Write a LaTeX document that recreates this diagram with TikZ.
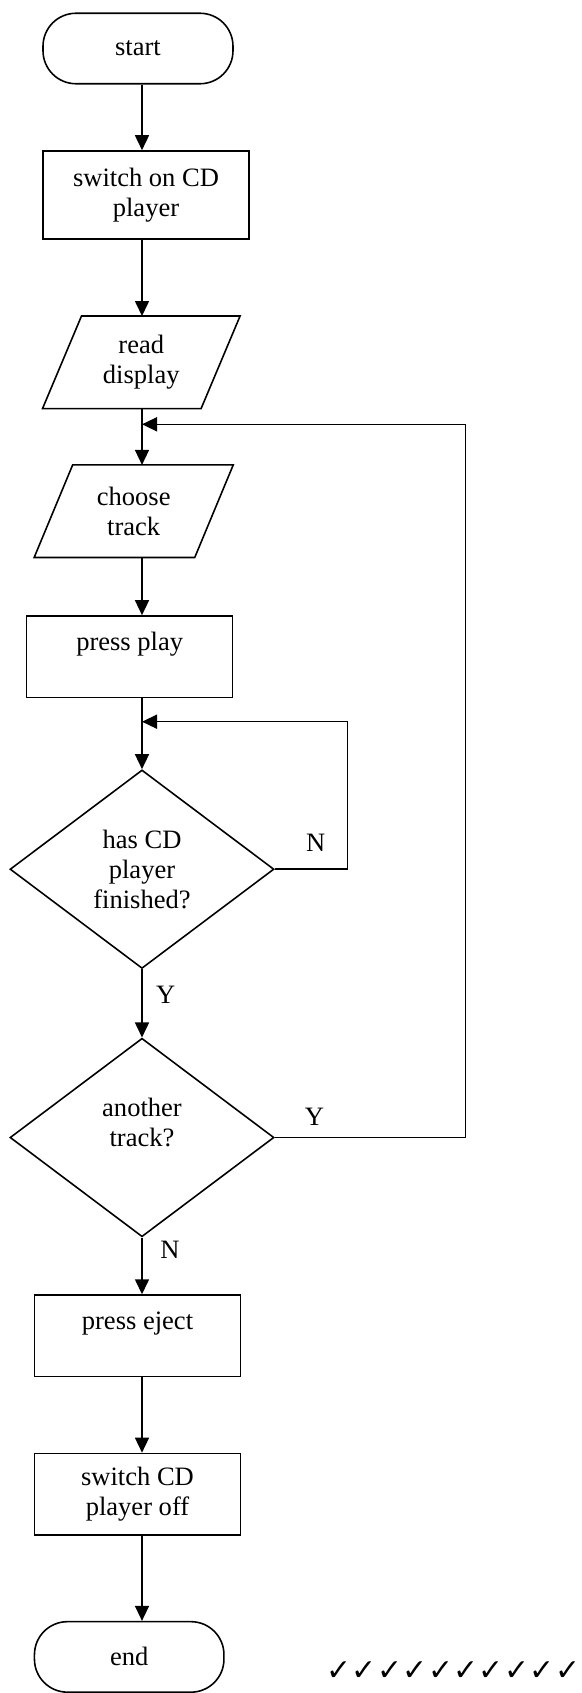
\documentclass[tikz,border=0pt]{standalone}
\usepackage{fontspec}
\setmainfont{Liberation Serif}
\newfontfamily\checkfont{DejaVu Sans}
\usetikzlibrary{
  arrows.meta,      % 实心三角箭头
  calc,             % 平行四边形顶点计算
  shapes.geometric  % 菱形判断框
}

\begin{document}
\begin{tikzpicture}[>={Triangle[length=0.3cm,width=0.28cm]}, line width=0.9pt,
  font=\fontsize{15.1}{17.1}\selectfont,
  box/.style={draw, rectangle, minimum width=4.12cm, minimum height=1.63cm, align=center, inner sep=0pt}, % 处理框
  term/.style={draw, rectangle, rounded corners=0.66cm, minimum width=3.8cm, minimum height=1.41cm, inner sep=0pt}, % 开始/结束框
  io/.style={rectangle, minimum width=3.92cm, minimum height=1.82cm, align=center, inner sep=0pt}, % 输入框（边框另画）
  dec/.style={draw, diamond, shape aspect=1.33, minimum width=5.28cm, minimum height=3.97cm, align=center, inner sep=0pt}] % 判断框
  \useasboundingbox (0,0) rectangle (11.64,-33.86); % 固定画布大小
  \coordinate (ax) at (2.84,0); % 主流程线所在的竖直轴

  % 主流程各框
  \node[term] (start) at (2.76,-0.97) {start};
  \node[box, minimum height=1.76cm] (swon) at (2.92,-3.9) {switch on CD\\player};
  \node[io] (rd) at (2.826,-7.246) {read\\display};
  \draw (rd.south west) -- ($(rd.north west)+(0.78,0)$) -- (rd.north east) -- ($(rd.south east)+(-0.78,0)$) -- cycle; % 平行四边形
  \node[io, minimum width=3.95cm] (ct) at (2.674,-10.224) {choose\\track};
  \draw (ct.south west) -- ($(ct.north west)+(0.77,0)$) -- (ct.north east) -- ($(ct.south east)+(-0.77,0)$) -- cycle; % 平行四边形
  \node[box] (pp) at (2.594,-13.134) {press play\\\mbox{}};
  \node[dec] (d1) at (2.84,-17.384) {has CD\\player\\finished?};
  \node[dec] (d2) at (2.84,-22.75) {another\\track?\\\mbox{}};
  \node[box] (pe) at (2.75,-26.716) {press eject\\\mbox{}};
  \node[box] (so) at (2.75,-29.884) {switch CD\\player off};
  \node[term, minimum width=3.79cm] (end) at (2.584,-33.138) {end};

  % 回路的转折点
  \coordinate (j1) at (2.84,-8.486);
  \coordinate (lp1) at (9.306,-8.486);
  \coordinate (j2) at (2.84,-14.434);
  \coordinate (lp2) at (6.954,-14.434);

  % 连线
  \draw[->] (start.south -| ax) -- (swon.north -| ax);
  \draw[->] (swon.south -| ax) -- (rd.north -| ax);
  \draw[->] (rd.south -| ax) -- (ct.north -| ax);
  \draw[->] (ct.south -| ax) -- (pp.north -| ax);
  \draw[->] (pp.south -| ax) -- (d1.north);
  \draw[->] (d1.south) -- (d2.north);
  \draw[->] (d2.south) -- (pe.north -| ax);
  \draw[->] (pe.south -| ax) -- (so.north -| ax);
  \draw[->] (so.south -| ax) -- (end.north -| ax);
  \draw[->] (d1.east) -| (lp2) -- (j2); % 未结束则继续等待
  \draw[->] (d2.east) -| (lp1) -- (j1); % 再选一首

  % 分支标注
  \node (n1) at (6.314,-16.866) {N};
  \node (y1) at (3.314,-19.9) {Y};
  \node (y2) at (6.29,-22.34) {Y};
  \node (n2) at (3.4,-25.0) {N};

  % 右下角的勾
  \foreach \i in {0,...,9}
    \node[font=\checkfont\fontsize{17}{17}\selectfont, inner sep=0pt] (ck\i) at (6.78+0.508*\i,-33.43) {✓};
\end{tikzpicture}
\end{document}
